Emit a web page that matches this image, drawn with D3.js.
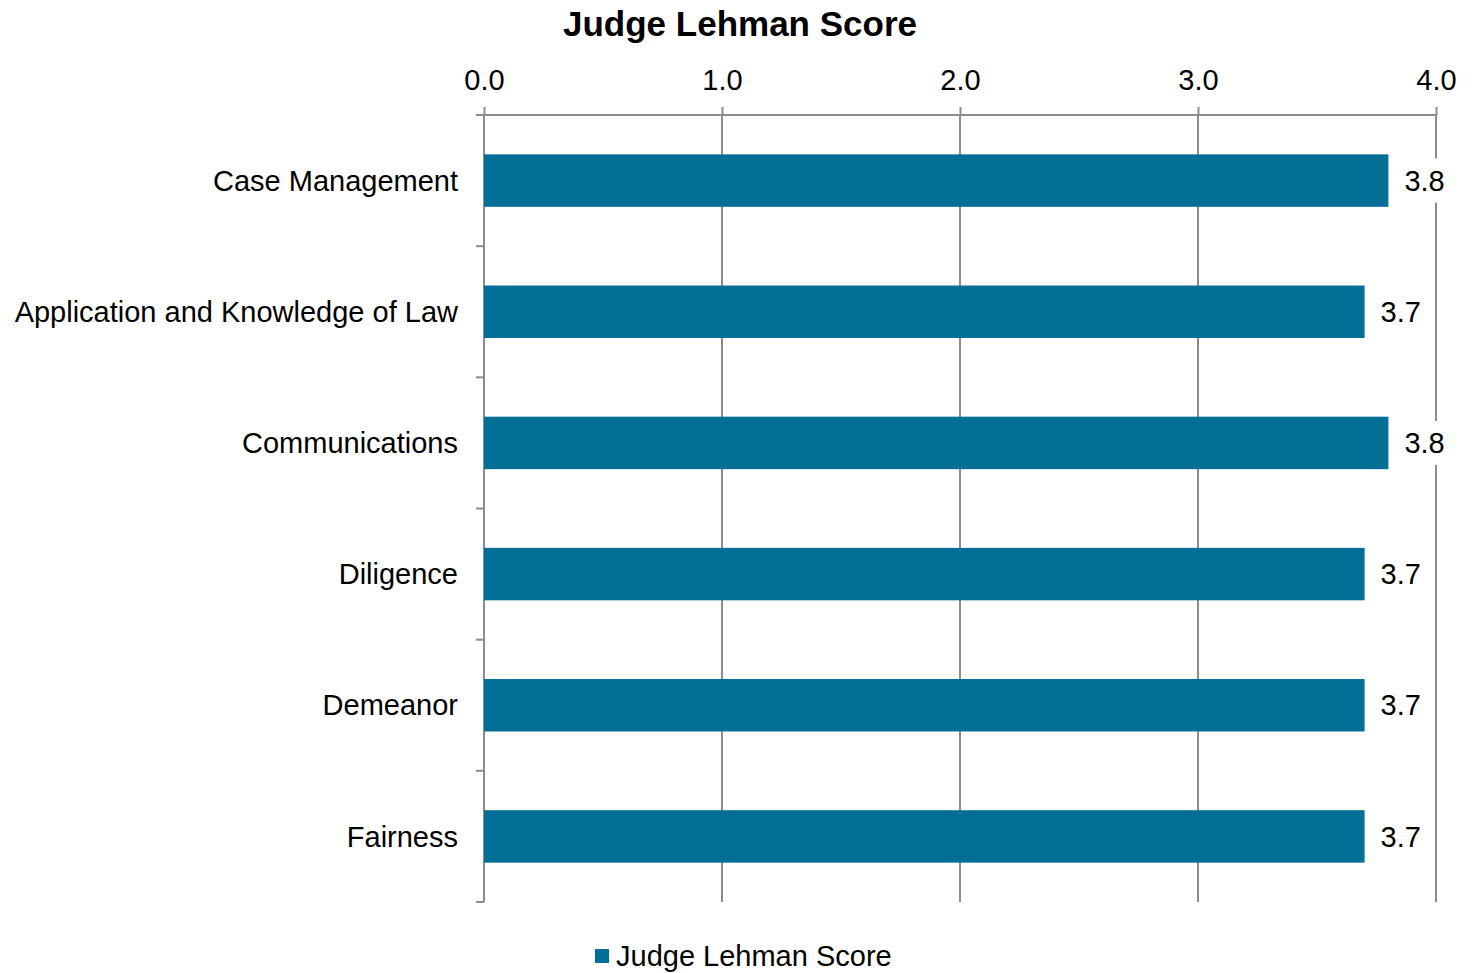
<!DOCTYPE html>
<html>
<head>
<meta charset="utf-8">
<script src="https://cdn.jsdelivr.net/npm/d3@7"></script>
<style>
  body { margin: 0; background: #fff; }
  svg { display: block; font-family: "Liberation Sans", Arial, sans-serif; }
</style>
</head>
<body>
<svg width="1475" height="973"></svg>
<script>
// Data
const categories = ["Case Management", "Application and Knowledge of Law", "Communications", "Diligence", "Demeanor", "Fairness"];
const scores = [3.8, 3.7, 3.8, 3.7, 3.7, 3.7];
const tickValues = [0, 1, 2, 3, 4];
const seriesName = "Judge Lehman Score";

const barColor = "#046f96";
const gridColor = "#8c8c8c";
const fontSize = 29;

const svg = d3.select("svg");
const margin = { top: 115, right: 39, bottom: 71, left: 484 };
const width = 1475 - margin.left - margin.right;
const height = 973 - margin.top - margin.bottom;

const chart = svg.append("g")
    .attr("transform", `translate(${margin.left}, ${margin.top})`);

const x = d3.scaleLinear().domain([0, 4]).range([0, width]);
const y = d3.scaleBand().domain(categories).range([0, height]).paddingInner(0.6).paddingOuter(0.3);

// vertical gridlines
chart.selectAll(".grid")
    .data(tickValues)
    .enter().append("line")
    .attr("x1", d => x(d)).attr("x2", d => x(d))
    .attr("y1", 0).attr("y2", height)
    .attr("stroke", gridColor).attr("stroke-width", 2);

// top axis
const xAxisG = chart.append("g")
    .call(d3.axisTop(x).tickValues(tickValues).tickFormat(d3.format(".1f")).tickSize(8).tickSizeOuter(0));
xAxisG.select(".domain").attr("stroke", gridColor).attr("stroke-width", 2)
    .attr("d", `M-8,0H${width}`);
xAxisG.selectAll(".tick line").attr("stroke", gridColor).attr("stroke-width", 2);
xAxisG.selectAll(".tick text").attr("font-size", fontSize).attr("fill", "#000").attr("dy", "-14px")
    .attr("font-family", "Liberation Sans, Arial, sans-serif");

// left axis with ticks at category boundaries
const boundaries = d3.range(categories.length + 1).map(i => i * height / categories.length);
chart.append("line")
    .attr("x1", 0).attr("x2", 0).attr("y1", 0).attr("y2", height)
    .attr("stroke", gridColor).attr("stroke-width", 2);
chart.selectAll(".ytick")
    .data(boundaries)
    .enter().append("line")
    .attr("x1", -8).attr("x2", 0)
    .attr("y1", d => d).attr("y2", d => d)
    .attr("stroke", gridColor).attr("stroke-width", 2);

// category labels
chart.selectAll(".cat")
    .data(categories)
    .enter().append("text")
    .attr("x", -26)
    .attr("y", d => y(d) + y.bandwidth() / 2)
    .attr("dy", "0.35em")
    .attr("text-anchor", "end")
    .attr("font-size", fontSize)
    .text(d => d);

// bars
chart.selectAll(".bar")
    .data(scores)
    .enter().append("rect")
    .attr("x", 0)
    .attr("y", (d, i) => y(categories[i]))
    .attr("width", d => x(d))
    .attr("height", y.bandwidth())
    .attr("fill", barColor);

// value labels with white backing
const labels = chart.selectAll(".val")
    .data(scores)
    .enter().append("g")
    .attr("transform", (d, i) => `translate(${x(d) + 16}, ${y(categories[i]) + y.bandwidth() / 2})`);
labels.append("rect")
    .attr("x", -2).attr("y", -22).attr("width", 46).attr("height", 44)
    .attr("fill", "#fff");
labels.append("text")
    .attr("dy", "0.35em")
    .attr("font-size", fontSize)
    .text(d => d3.format(".1f")(d));

// title
svg.append("text")
    .attr("x", 740).attr("y", 36)
    .attr("text-anchor", "middle")
    .attr("font-size", 35).attr("font-weight", "bold")
    .text(seriesName);

// legend
const legend = svg.append("g").attr("transform", "translate(595, 949)");
legend.append("rect").attr("width", 14).attr("height", 14).attr("fill", barColor);
legend.append("text")
    .attr("x", 21).attr("y", 17)
    .attr("font-size", fontSize)
    .text(seriesName);
</script>
</body>
</html>
